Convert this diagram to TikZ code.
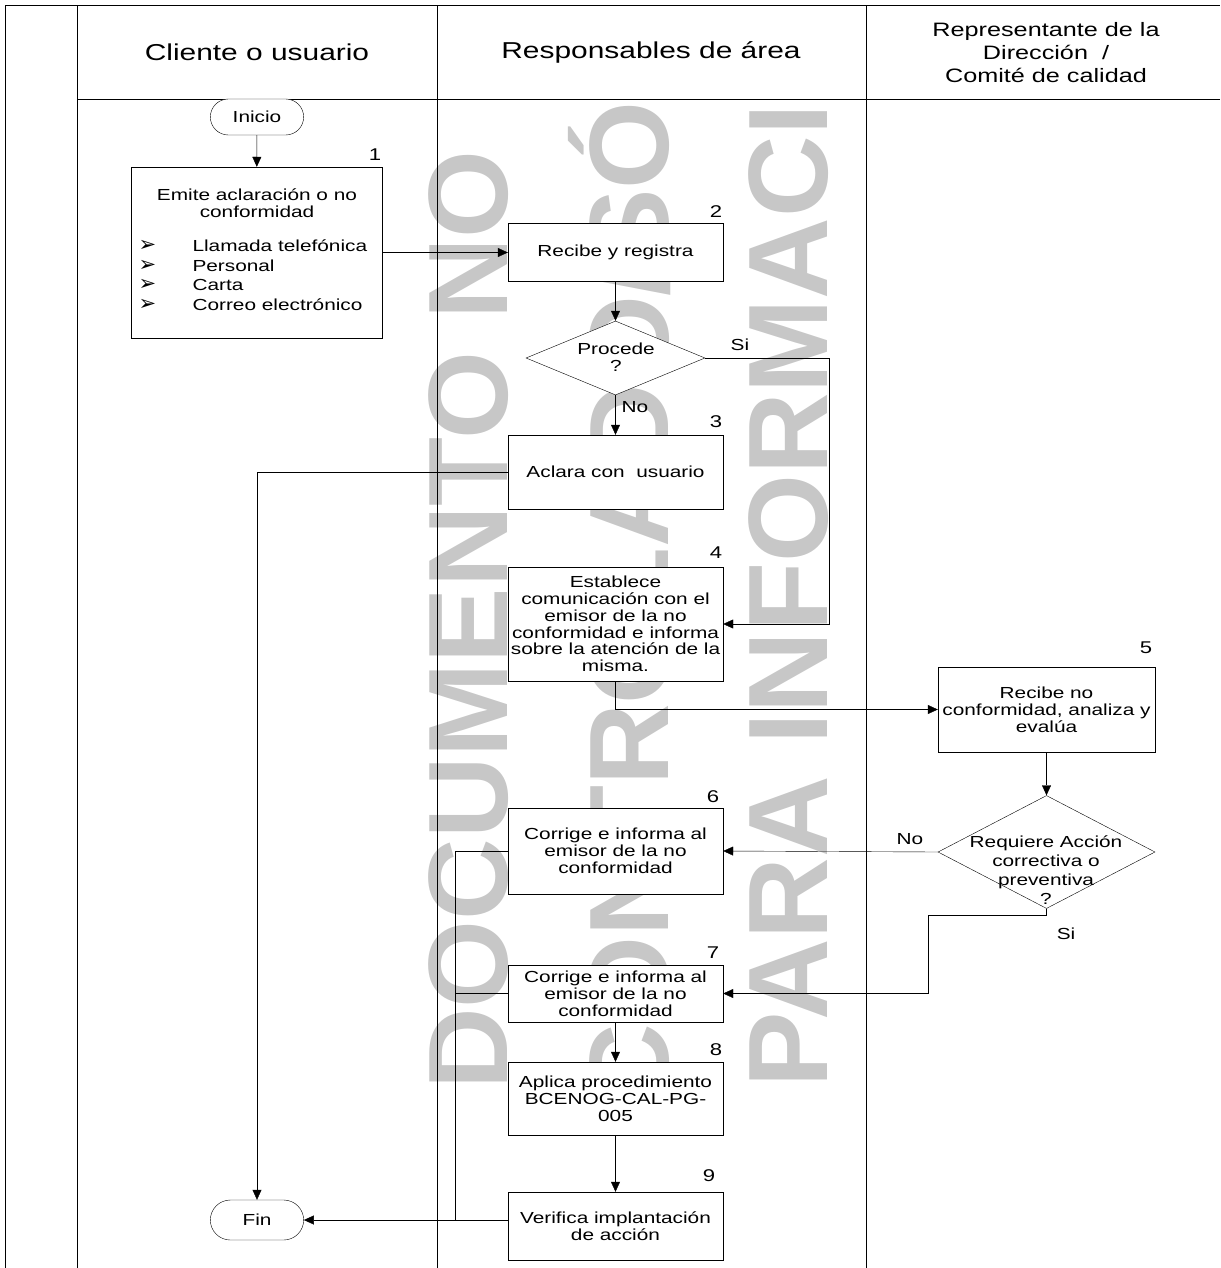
\documentclass[tikz,border=0pt]{standalone}
\usepackage{fontspec}
\setmainfont{Liberation Sans}[FakeStretch=1.3]
\newfontfamily\symbfont{DejaVu Sans}
\newfontfamily\markfont{Liberation Sans}
\usetikzlibrary{shapes.geometric,shapes.misc,arrows.meta,positioning}

\begin{document}
\begin{tikzpicture}[x=1pt, y=-1pt,
    every node/.style={font=\fontsize{16}{16.8}\selectfont, align=center}]
  \tikzstyle{process} = [rectangle, draw, fill=white, minimum width=215,
      inner sep=2pt]
  \tikzstyle{decision} = [diamond, draw, fill=white, inner sep=0pt]
  \tikzstyle{terminal} = [rounded rectangle, draw, fill=white,
      minimum width=100]
  \tikzstyle{arrow} = [-{Triangle[length=10pt,width=9pt]}]
  \tikzstyle{lane} = [line width=1pt]
  \tikzstyle{head} = [font=\fontsize{23}{26}\selectfont]
  \tikzstyle{num} = [font=\fontsize{17}{17}\selectfont]
  \tikzstyle{wmark} = [font=\markfont\bfseries\fontsize{113}{113}\selectfont,
      text=black!22, rotate=90, anchor=base west, inner sep=0pt]

  \useasboundingbox (0,0) rectangle (1220,1268);

  % watermark, only inside the body of the table
  \begin{scope}
    \clip (77,100) rectangle (1220,1268);
    \node (mark1) [wmark] at (507,1090) {DOCUMENTO NO};
    \node (mark2) [wmark] at (668,1106) {CONTROLADO/SÓLO};
    \node (mark3) [wmark] at (827,1088) {PARA INFORMACIÓN};
  \end{scope}

  % swimlanes: x = 5 | 77 | 437 | 866, header row from y = 6 to 100
  \draw[lane] (5,6) -- (1220,6);
  \draw[lane] (77,100) -- (1220,100);
  \foreach \x in {5,77,437,866}
    \draw[lane] (\x,6) -- (\x,1268);

  \node (hcliente) [head] at (257,52) {Cliente o usuario};
  \node (hresp)    [head] at (651,52) {Responsables de área};
  \node (hrep) [font=\fontsize{19.4}{23}\selectfont] at (1046,53)
      {Representante de la\\Dirección\ \ /\\Comité de calidad};

  % steps
  \node (inicio)    [terminal, minimum height=36] at (257,117)   {Inicio};
  \node (emite)     [process, minimum width=251, minimum height=171]
                                                  at (256.5,252.5) {};
  \node (emitetit)                                at (257,203)   {Emite aclaración o no\\conformidad};
  \node (emitelist) [anchor=west, align=left, font=\fontsize{16}{19.5}\selectfont]
                                                  at (135,277)
      {\begin{tabular}{@{}p{54pt}@{}l@{}}
        {\symbfont\fontsize{21}{19}\selectfont ➢} & Llamada telefónica\\
        {\symbfont\fontsize{21}{19}\selectfont ➢} & Personal\\
        {\symbfont\fontsize{21}{19}\selectfont ➢} & Carta\\
        {\symbfont\fontsize{21}{19}\selectfont ➢} & Correo electrónico
       \end{tabular}};
  \node (recibe)    [process, minimum height=58]  at (615.5,252) {Recibe y registra};
  \node (procede)   [decision, minimum width=179, minimum height=74]
                                                  at (615.5,358) {};
  \node (procedetxt)                              at (616,357)   {Procede\\?};
  \node (aclara)    [process, minimum height=74]  at (615.5,472) {Aclara con\ \ usuario};
  \node (establece) [process, minimum height=114] at (615.5,624)
      {Establece\\comunicación con el\\emisor de la no\\conformidad e informa\\sobre la atención de la\\misma.};
  \node (analiza)   [process, minimum width=217, minimum height=85]
                                                  at (1046.5,709.5) {Recibe no\\conformidad, analiza y\\evalúa};
  \node (requiere)  [decision, minimum width=217, minimum height=113]
                                                  at (1046.5,852) {};
  \node (requieretxt) [font=\fontsize{16}{19}\selectfont]
                                                  at (1046,870)  {Requiere Acción\\correctiva o\\preventiva\\?};
  \node (corrigeA)  [process, minimum height=86]  at (615.5,851) {Corrige e informa al\\emisor de la no\\conformidad};
  \node (corrigeB)  [process, minimum height=57]  at (615.5,993.5) {Corrige e informa al\\emisor de la no\\conformidad};
  \node (aplica)    [process, minimum height=73]  at (615.5,1098.5) {Aplica procedimiento\\BCENOG-CAL-PG-\\005};
  \node (verifica)  [process, minimum height=68]  at (615.5,1226) {Verifica implantación\\de acción};
  \node (fin)       [terminal, minimum height=40] at (257,1220)  {Fin};

  % step numbers
  \node (n1) [num] at (375,155)  {1};
  \node (n2) [num] at (716,212)  {2};
  \node (n3) [num] at (716,422)  {3};
  \node (n4) [num] at (716,553)  {4};
  \node (n5) [num] at (1146,648) {5};
  \node (n6) [num] at (713,797)  {6};
  \node (n7) [num] at (713,953)  {7};
  \node (n8) [num] at (716,1050) {8};
  \node (n9) [num] at (709,1176) {9};

  \coordinate (sibend) at (928,915);
  \coordinate (joinpt) at (455,1220);

  \draw[arrow] (inicio) -- (emite);
  \draw[arrow] (emite.east) -- (emite.east -| recibe.west);
  \draw[arrow] (recibe) -- (procede);
  \draw[arrow] (procede) -- node[pos=0.3, right, inner sep=6pt] {No} (aclara);
  \draw[arrow] (procede.east) -- node[pos=0.28, above=4pt] {Si} ++(124,0)
      |- (establece.east);
  \draw[arrow] (aclara.west) -| (fin.north);
  \draw[arrow] (establece.south) |- (analiza.west);
  \draw[arrow] (analiza) -- (requiere);
  \draw[arrow] (requiere.west) -- node[pos=0.13, above=4pt] {No} (corrigeA.east);
  % "Si" branch leaves the bottom tip, steps left and comes back into step 7
  \draw[arrow] (requiere.south) |- (sibend) |- (corrigeB.east);
  \node (sino) at (1066,934) {Si};
  \draw (corrigeA.west) -| (joinpt);
  \draw (corrigeB.west) -- (corrigeB.west -| joinpt);
  \draw[arrow] (corrigeB) -- (aplica);
  \draw[arrow] (aplica) -- (verifica);
  \draw[arrow] (verifica.west |- fin.east) -- (fin.east);
\end{tikzpicture}
\end{document}
